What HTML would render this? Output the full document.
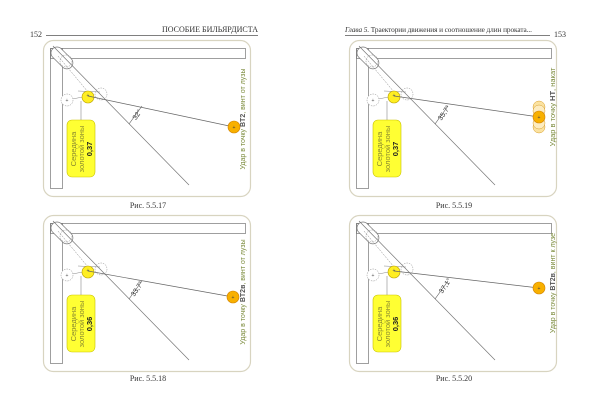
<!DOCTYPE html>
<html><head><meta charset="utf-8"><style>
html,body{margin:0;padding:0;background:#fff;}
svg{display:block;font-family:"Liberation Sans",sans-serif;}
.serif{font-family:"Liberation Serif",serif;}
</style></head><body>
<svg width="600" height="413" viewBox="0 0 600 413" xmlns="http://www.w3.org/2000/svg">
<defs>
<g id="base">
  <rect x="43.5" y="40.5" width="207" height="156" rx="10" fill="none" stroke="#d8d4c0" stroke-width="1.2"/>
  <rect x="50.5" y="48.5" width="12" height="140" fill="none" stroke="#777" stroke-width="0.7"/>
  <rect x="50.5" y="48.5" width="195" height="10" fill="none" stroke="#777" stroke-width="0.7"/>
  <rect x="51" y="47" width="12" height="26" rx="6" transform="rotate(-45 57 53)" fill="#fff" stroke="#777" stroke-width="0.7"/>
  <circle cx="66" cy="61" r="6" fill="none" stroke="#888" stroke-width="0.5" stroke-dasharray="1.5,1"/>
  <line x1="53" y1="46" x2="189" y2="185" stroke="#777" stroke-width="0.7"/>
  <line x1="58" y1="56" x2="88" y2="92" stroke="#888" stroke-width="0.5" stroke-dasharray="2,1"/>
  <line x1="78" y1="91" x2="100" y2="92" stroke="#888" stroke-width="0.5"/>
  <line x1="67" y1="100" x2="88" y2="96" stroke="#888" stroke-width="0.5"/>
  <circle cx="67" cy="100" r="6" fill="#fff" stroke="#888" stroke-width="0.5" stroke-dasharray="1.5,1"/>
  <text x="67" y="102" font-size="5" text-anchor="middle" fill="#555">+</text>
  <circle cx="101" cy="94" r="6" fill="none" stroke="#888" stroke-width="0.5" stroke-dasharray="1.5,1"/>
  <circle cx="88" cy="97" r="6" fill="#ffee22" stroke="#b8a000" stroke-width="0.6"/>
  <text x="88" y="97" font-size="5" text-anchor="middle" fill="#555">+</text>
  <line x1="81" y1="101" x2="81" y2="120" stroke="#888" stroke-width="0.6"/>
  <rect x="67" y="120" width="28" height="57" rx="5" fill="#ffff33" stroke="#c9c200" stroke-width="0.6"/>
  <line x1="129" y1="124" x2="142" y2="106" stroke="#555" stroke-width="0.6"/>
</g>
</defs>

<text x="30" y="37" font-size="8" class="serif" fill="#333">152</text>
<line x1="46" y1="35.5" x2="258" y2="35.5" stroke="#555" stroke-width="0.8"/>
<text x="258" y="32" font-size="8" class="serif" text-anchor="end" fill="#333">ПОСОБИЕ БИЛЬЯРДИСТА</text>
<text x="345" y="32" font-size="7.3" class="serif" fill="#333" textLength="187"><tspan font-style="italic">Глава 5.</tspan> Траектории движения и соотношение длин проката...</text>
<line x1="345" y1="35.5" x2="550" y2="35.5" stroke="#555" stroke-width="0.8"/>
<text x="554" y="37" font-size="8" class="serif" fill="#333">153</text>

<g>
  <use href="#base"/>
  <line x1="88" y1="96" x2="234" y2="127" stroke="#666" stroke-width="0.7"/>
  <circle cx="234" cy="127" r="6" fill="#f8b000" stroke="#d08000" stroke-width="0.6"/>
  <text x="234" y="129" font-size="5" text-anchor="middle" fill="#444">+</text>
  <text transform="translate(139,116) rotate(-56)" font-size="7" text-anchor="middle" fill="#333">32°</text>
  <g transform="translate(81,149) rotate(-90)" text-anchor="middle" font-size="7.5">
    <text y="-5" fill="#8a8a30">Середина</text><text y="3" fill="#8a8a30">золотой зоны</text><text y="11" font-weight="bold" fill="#222">0,37</text>
  </g>
  <text transform="translate(245,119) rotate(-90)" font-size="7" text-anchor="middle" fill="#7a8a3a">Удар в точку <tspan font-weight="bold" fill="#555">BT2</tspan>, винт от лузы</text>
  <text x="148" y="208" font-size="8" class="serif" text-anchor="middle" fill="#333">Рис. 5.5.17</text>
</g>

<g transform="translate(306,0)">
  <use href="#base"/>
  <line x1="88" y1="96" x2="233" y2="117" stroke="#666" stroke-width="0.7"/>
  <g fill="#fbe2a0" stroke="#d8a030" stroke-width="0.5">
    <circle cx="233" cy="107" r="6"/><circle cx="233" cy="127" r="6"/>
    <circle cx="233" cy="111" r="6" fill="#fdecc0"/><circle cx="233" cy="123" r="6" fill="#fdecc0"/>
  </g>
  <circle cx="233" cy="117" r="6" fill="#f8b000" stroke="#d08000" stroke-width="0.6"/>
  <text x="233" y="119" font-size="5" text-anchor="middle" fill="#444">+</text>
  <text transform="translate(140,114) rotate(-56)" font-size="7" text-anchor="middle" fill="#333">35,7°</text>
  <g transform="translate(81,149) rotate(-90)" text-anchor="middle" font-size="7.5">
    <text y="-5" fill="#8a8a30">Середина</text><text y="3" fill="#8a8a30">золотой зоны</text><text y="11" font-weight="bold" fill="#222">0,37</text>
  </g>
  <text transform="translate(249,107) rotate(-90)" font-size="7.5" text-anchor="middle" fill="#7a8a3a">Удар в точку <tspan font-weight="bold" fill="#555">HT</tspan>, накат</text>
  <text x="148" y="208" font-size="8" class="serif" text-anchor="middle" fill="#333">Рис. 5.5.19</text>
</g>

<g transform="translate(0,175)">
  <use href="#base"/>
  <line x1="88" y1="96" x2="233" y2="122" stroke="#666" stroke-width="0.7"/>
  <circle cx="233" cy="122" r="6" fill="#f8b000" stroke="#d08000" stroke-width="0.6"/>
  <text x="233" y="124" font-size="5" text-anchor="middle" fill="#444">+</text>
  <text transform="translate(139,115) rotate(-56)" font-size="7" text-anchor="middle" fill="#333">33,7°</text>
  <g transform="translate(81,149) rotate(-90)" text-anchor="middle" font-size="7.5">
    <text y="-5" fill="#8a8a30">Середина</text><text y="3" fill="#8a8a30">золотой зоны</text><text y="11" font-weight="bold" fill="#222">0,36</text>
  </g>
  <text transform="translate(245,117) rotate(-90)" font-size="7" text-anchor="middle" fill="#7a8a3a">Удар в точку <tspan font-weight="bold" fill="#555">BT2в</tspan>, винт от лузы</text>
  <text x="148" y="206" font-size="8" class="serif" text-anchor="middle" fill="#333">Рис. 5.5.18</text>
</g>

<g transform="translate(306,175)">
  <use href="#base"/>
  <line x1="88" y1="96" x2="233" y2="113" stroke="#666" stroke-width="0.7"/>
  <circle cx="233" cy="113" r="6" fill="#f8b000" stroke="#d08000" stroke-width="0.6"/>
  <text x="233" y="115" font-size="5" text-anchor="middle" fill="#444">+</text>
  <text transform="translate(141,112) rotate(-56)" font-size="7" text-anchor="middle" fill="#333">37,1°</text>
  <g transform="translate(81,149) rotate(-90)" text-anchor="middle" font-size="7.5">
    <text y="-5" fill="#8a8a30">Середина</text><text y="3" fill="#8a8a30">золотой зоны</text><text y="11" font-weight="bold" fill="#222">0,36</text>
  </g>
  <text transform="translate(249,108) rotate(-90)" font-size="7" text-anchor="middle" fill="#7a8a3a">Удар в точку <tspan font-weight="bold" fill="#555">BT2в</tspan>, винт к лузе</text>
  <text x="148" y="206" font-size="8" class="serif" text-anchor="middle" fill="#333">Рис. 5.5.20</text>
</g>
</svg>
</body></html>
